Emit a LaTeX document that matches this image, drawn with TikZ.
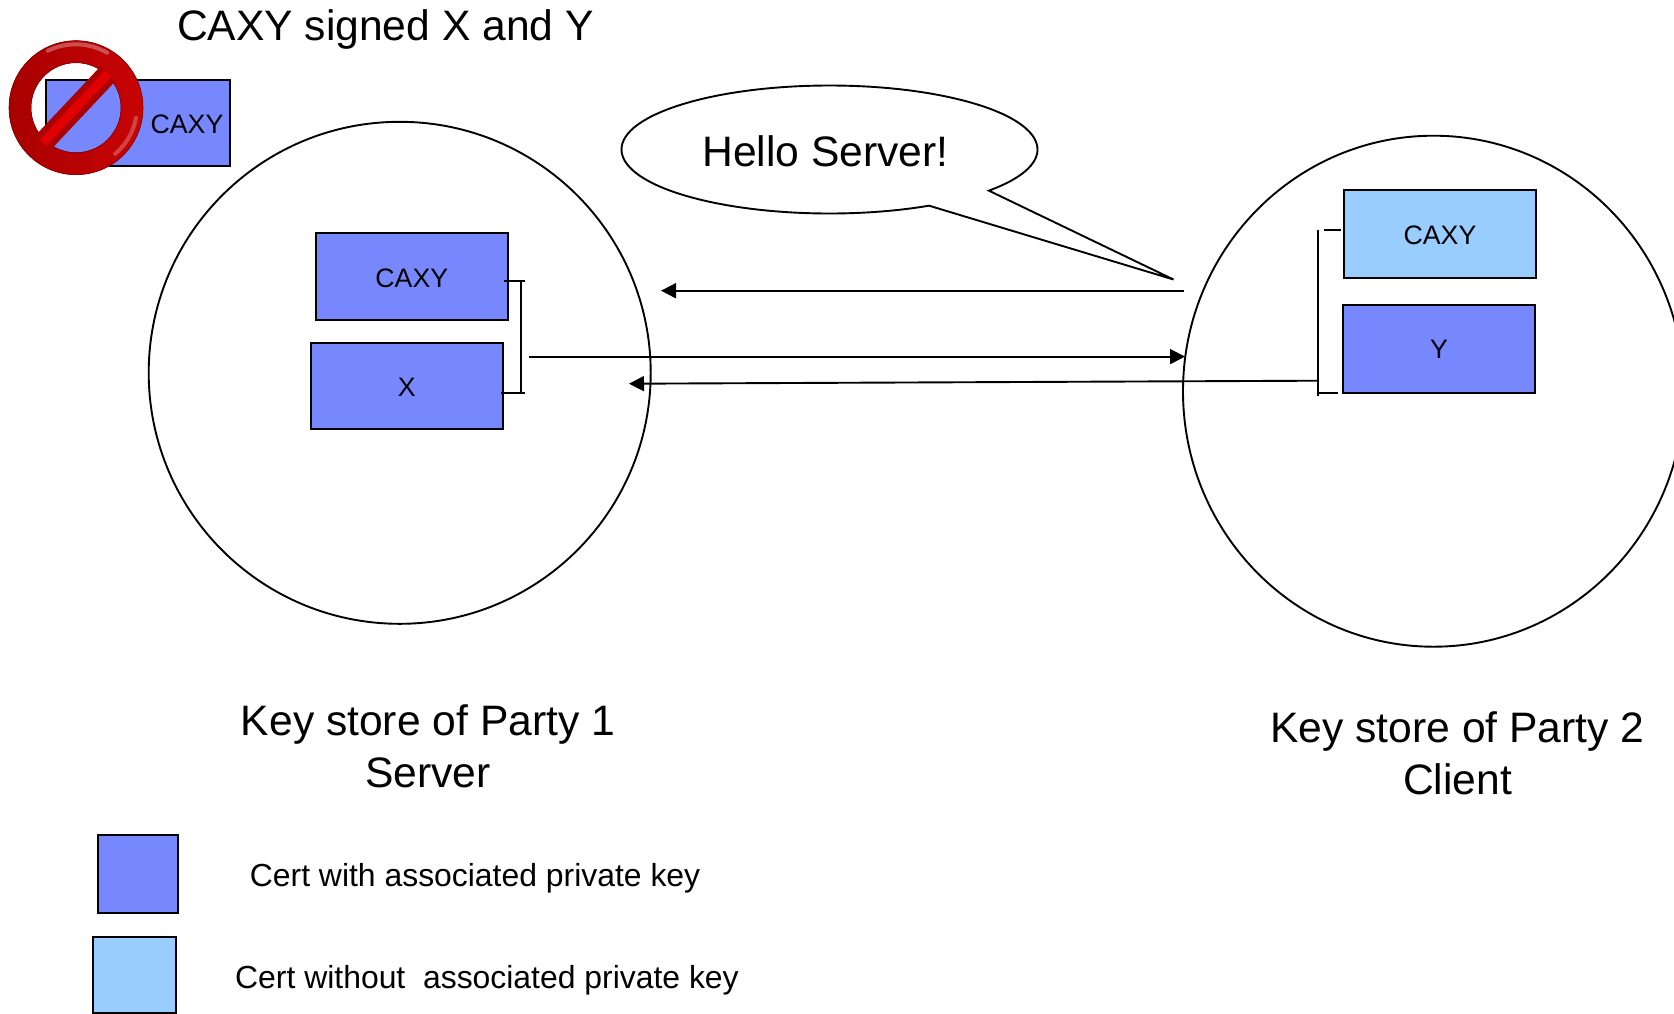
\documentclass[tikz,border=0pt]{standalone}
\usepackage{fontspec}
\setmainfont{Liberation Sans}
\usetikzlibrary{arrows.meta,shapes.geometric}
\definecolor{certblue}{HTML}{7788FF}
\definecolor{certlight}{HTML}{99CCFF}
\definecolor{signdark}{HTML}{A80000}
\definecolor{signmid}{HTML}{C80404}
\definecolor{signbar}{HTML}{E00000}
\newcommand{\certtext}[2]{\raisebox{#1}[19pt][0pt]{#2}}
\tikzset{
  line/.style={draw=black,line width=1.9pt},
  store/.style={ellipse,line,inner sep=0pt,minimum width=#1},
  cert/.style={rectangle,draw=black,line width=2pt,fill=certblue,inner sep=0pt,font=\fontsize{26.7}{30}\selectfont},
  certnokey/.style={cert,fill=certlight},
  big/.style={inner sep=0pt,align=center,font=\fontsize{42.6}{52}\selectfont},
  legend/.style={inner sep=0pt,anchor=west,font=\fontsize{31.9}{38}\selectfont},
  flow/.style={line,-{Triangle[length=15pt,width=15pt]}},
  tick/.style={line}
}
\begin{document}
\begin{tikzpicture}[x=1pt,y=1pt]
\useasboundingbox (0,0) rectangle (1674,-1013);
\clip (0,0) rectangle (1674,-1013);
% stores
\node[store=502pt,minimum height=502pt] (p1) at (399.7,-372.8) {};
\node[store=501pt,minimum height=511pt] (p2) at (1433.5,-391.2) {};
% certificates
\node[cert,minimum width=183.7pt,minimum height=86.3pt] (rev) at (138.2,-122.8) {};
\node (revlabel) at (187,-124) [inner sep=0pt,font=\fontsize{26.7}{30}\selectfont] {CAXY};
\node[cert,minimum width=192pt,minimum height=86.3pt] (s1) at (411.8,-276.5) {\certtext{-1.5pt}{CAXY}};
\node[cert,minimum width=192.3pt,minimum height=86.6pt] (sx) at (406.9,-386) {\certtext{-.5pt}{X}};
\node[certnokey,minimum width=192.5pt,minimum height=88.3pt] (c1) at (1440,-234.2) {\certtext{-1pt}{CAXY}};
\node[cert,minimum width=192.2pt,minimum height=88pt] (cy) at (1438.9,-348.7) {\certtext{-.5pt}{Y}};
% no-entry sign
\begin{scope}[shift={(76,-107.7)}]
  \fill[even odd rule,left color=signdark,right color=signmid,draw=signdark!80!black,line width=.6pt]
    (0,0) circle[radius=67] (0,0) circle[radius=45];
  \draw[white,opacity=.3,line width=4pt,line cap=round] (-28,57) arc[start angle=116,end angle=60,radius=63];
  \draw[white,opacity=.25,line width=4pt,line cap=round] (60,-10) arc[start angle=-10,end angle=-50,radius=61];
  \draw[signmid!85!black,line width=21pt] (-33,-35) -- (32,34);
  \draw[signbar,line width=9pt] (-33,-35) -- (32,34);
\end{scope}
% bubble
\coordinate (tip) at (1173.5,-279.5);
\node[big] (hello) at (825.5,-151) {Hello Server!};
\draw[line] (829.5,-149.5) ++(-40:208 and 64) arc[start angle=-40,end angle=298.6,x radius=208,y radius=64] -- (tip) -- cycle;
% left bracket
\coordinate (ltop) at (504,-281.3);
\coordinate (ltopr) at (525,-281.3);
\coordinate (lbot) at (501.3,-393.3);
\coordinate (lbotr) at (525,-393.3);
\coordinate (lv1) at (521,-281.3);
\coordinate (lv2) at (521,-393.3);
\draw[tick] (ltop) -- (ltopr);
\draw[tick] (lbot) -- (lbotr);
\draw[tick] (lv1) -- (lv2);
% right bracket
\coordinate (rv1) at (1317.7,-230);
\coordinate (rv2) at (1317.7,-396);
\coordinate (rt1) at (1324,-230.3);
\coordinate (rt2) at (1341.3,-230.3);
\coordinate (rb1) at (1318,-393.3);
\coordinate (rb2) at (1337.7,-393.3);
\draw[tick] (rv1) -- (rv2);
\draw[tick] (rt1) -- (rt2);
\draw[tick] (rb1) -- (rb2);
% arrows
\coordinate (a1s) at (1184.3,-290.7);
\coordinate (a1e) at (661,-290.7);
\coordinate (a2s) at (529.3,-356.6);
\coordinate (a2e) at (1185,-356.6);
\coordinate (a3s) at (1318,-380.7);
\coordinate (a3e) at (629,-383.7);
\draw[flow] (a1s) -- (a1e);
\draw[flow] (a2s) -- (a2e);
\draw[flow] (a3s) -- (a3e);
% labels
\node[big] (title) at (385.4,-29) {CAXY signed X and Y};
\node[big] (l1) at (428,-746) {Key store of Party 1\\Server};
\node[big] (l2) at (1457.5,-753) {Key store of Party 2\\Client};
% legend
\node[cert,minimum width=80.5pt,minimum height=78pt] (k1) at (138,-874) {};
\node[certnokey,minimum width=83.5pt,minimum height=76pt] (k2) at (134.3,-975) {};
\node[legend] (t1) at (249.7,-878) {Cert with associated private key};
\node[legend] (t2) at (235,-980.5) {Cert without\ \ associated private key};
\end{tikzpicture}
\end{document}
